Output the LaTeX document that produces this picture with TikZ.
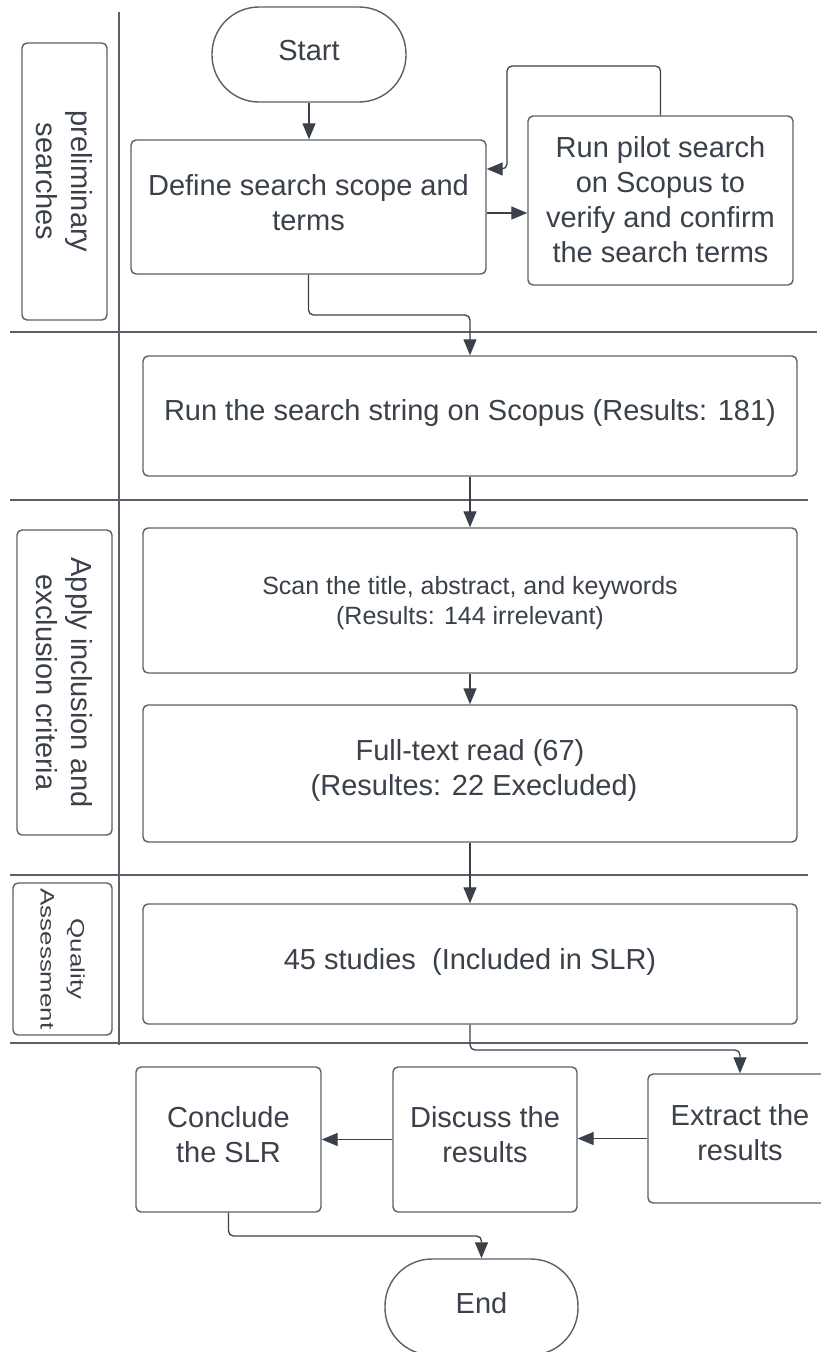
\documentclass[tikz,border=0pt]{standalone}
\usepackage{fontspec}
\usepackage{graphicx}
\setmainfont{Liberation Sans}
\usetikzlibrary{arrows.meta}
\definecolor{ln}{HTML}{5B6068}
\definecolor{tx}{HTML}{3A414A}
\definecolor{ar}{HTML}{3A414A}
\begin{document}
\begin{tikzpicture}[x=1pt,y=-1pt,
  box/.style={draw=ln, line width=1.4pt, rounded corners=5pt, inner sep=0pt},
  term/.style={box, rounded corners=47pt},
  txt/.style={inner sep=0pt, align=center, text=tx, font=\fontsize{29}{35}\selectfont},
  small/.style={txt, font=\fontsize{25}{30}\selectfont},
  lane/.style={draw=ln, line width=1.4pt},
  lbl/.style={box, txt, rotate=-90},
  arr/.style={draw=ar, line width=1.3pt, rounded corners=5pt, -{Triangle[length=16pt,width=13pt]}},
]
\useasboundingbox (0,0) rectangle (821,1352);
\fill[white] (0,0) rectangle (821,1352);

% swimlane lines
\draw[lane] (10,332) -- (817,332);
\draw[lane] (10,500) -- (808,500);
\draw[lane] (10,875) -- (808,875);
\draw[lane] (10,1043) -- (808,1043);
\draw[lane] (119,12) -- (119,1045);

% lane labels
\node[lbl, minimum width=277pt, minimum height=85pt] (l1) at (64.5,181.5) {preliminary\\searches};
\node[lbl, minimum width=305pt, minimum height=95pt] (l2) at (64.5,682.5) {Apply inclusion and\\exclusion criteria};
\node[lbl, minimum width=152pt, minimum height=99pt, font=\fontsize{19.5}{30}\selectfont] (l3) at (62.5,959) {\scalebox{1.33}[1]{Quality}\\\scalebox{1.33}[1]{Assessment}};

% shapes
\node[term, minimum width=194pt, minimum height=95pt] (start) at (309,54.5) {};
\node[box, minimum width=355pt, minimum height=134pt] (define) at (308.5,207) {};
\node[box, minimum width=265pt, minimum height=169pt] (pilot) at (660.5,200.5) {};
\node[box, minimum width=654pt, minimum height=120pt] (run) at (470,416) {};
\node[box, minimum width=654pt, minimum height=145pt] (scan) at (470,600.5) {};
\node[box, minimum width=654pt, minimum height=137pt] (full) at (470,773.5) {};
\node[box, minimum width=654pt, minimum height=120pt] (study) at (470,964) {};
\node[box, minimum width=184pt, minimum height=129pt] (extract) at (740,1138.5) {};
\node[box, minimum width=184pt, minimum height=145pt] (discuss) at (485,1139.5) {};
\node[box, minimum width=185pt, minimum height=145pt] (conclude) at (228.5,1139.5) {};
\node[term, minimum width=193pt, minimum height=96pt] (end) at (481.5,1307) {};

% texts
\node[txt] (start-t) at ([yshift=4pt]start.center) {Start};
\node[txt] (define-t) at ([yshift=4.5pt]define.center) {Define search scope and\\terms};
\node[txt] (pilot-t) at ([yshift=0.5pt]pilot.center) {Run pilot search\\on Scopus to\\verify and confirm\\the search terms};
\node[txt] (run-t) at ([yshift=3pt]run.center) {Run the search string on Scopus (Results: 181)};
\node[small] (scan-t) at ([yshift=-3pt]scan.center) {Scan the title, abstract, and keywords\\(Results: 144 irrelevant)};
\node[txt] (full-t) at ([yshift=3.5pt]full.center) {Full-text read (67)\\\ (Resultes: 22 Execluded)};
\node[txt] (study-t) at ([yshift=2pt]study.center) {45 studies\ \ (Included in SLR)};
\node[txt] (extract-t) at ([yshift=5.5pt]extract.center) {Extract the\\results};
\node[txt] (discuss-t) at ([yshift=5pt]discuss.center) {Discuss the\\results};
\node[txt] (conclude-t) at ([yshift=5pt]conclude.center) {Conclude\\the SLR};
\node[txt] (end-t) at ([yshift=4pt]end.center) {End};

% connectors
\coordinate (lp) at (507,66);
\coordinate (c1) at (470,315);
\coordinate (c2) at (740,1050);
\coordinate (c3) at (481.5,1236);
\draw[arr] (start.south) -- (start.south |- define.north);
\draw[arr] ([yshift=-6pt]define.east) -- ([yshift=-6pt]define.east -| pilot.west);
\draw[arr] (pilot.north) |- (lp) |- ([yshift=38pt]define.east);
\draw[arr] (define.south) |- (c1) -- (run.north);
\draw[arr] (run.south) -- (scan.north);
\draw[arr] (scan.south) -- (full.north);
\draw[arr] (full.south) -- (study.north);
\draw[arr] (study.south) |- (c2) -- (extract.north);
\draw[arr] (extract.west) -- (extract.west -| discuss.east);
\draw[arr] (discuss.west) -- (discuss.west -| conclude.east);
\draw[arr] (conclude.south) |- (c3) -- (end.north);
\end{tikzpicture}
\end{document}
